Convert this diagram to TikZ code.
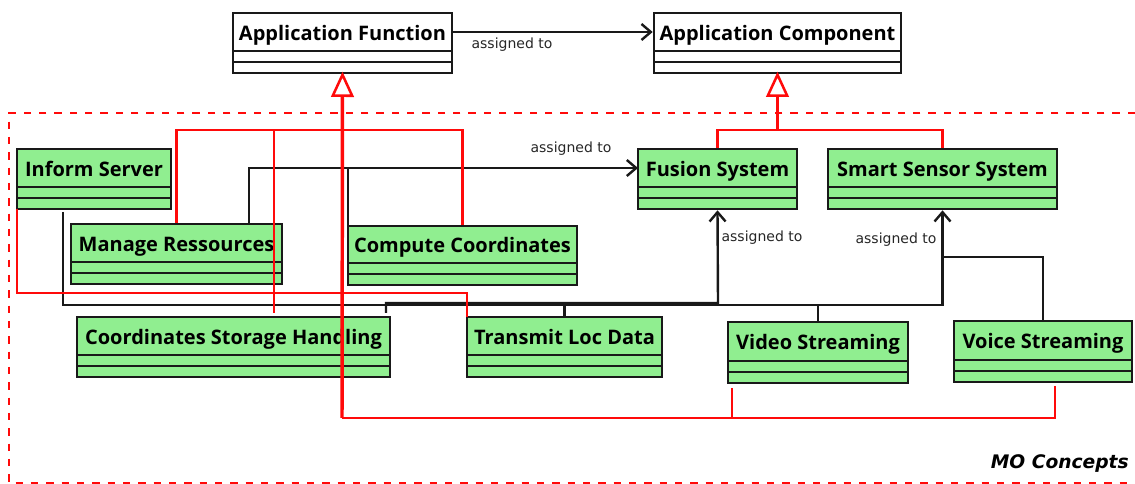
\documentclass[tikz,border=0pt]{standalone}
\usepackage{fontspec}
\setmainfont{Open Sans}
\newfontfamily\lblfont{DejaVu Sans}
\usetikzlibrary{arrows.meta,calc}
\definecolor{boxgreen}{HTML}{90EE90}
\definecolor{linered}{HTML}{FF0A0A}
\newcommand{\umlclass}[7][white]{% fill, name, cx, cy, w, h, title
  \node[umlbox,fill=#1,minimum width=#5*0.75pt,minimum height=#6*0.75pt] (#2) at (#3,#4)
    {\raisebox{2pt}[0pt][0pt]{#7}};}
\tikzset{
  umlbox/.style={draw=black!90,line width=2pt,inner sep=0pt,font=\fontsize{15pt}{18pt}\selectfont\bfseries,
    path picture={
      \draw[black!90,line width=2pt]
        ($(path picture bounding box.south west)+(0,-22)$) -- ($(path picture bounding box.south east)+(0,-22)$)
        ($(path picture bounding box.south west)+(0,-11)$) -- ($(path picture bounding box.south east)+(0,-11)$);
    }},
  assoc/.style={draw=black!90,line width=1.8pt},
  assocarrow/.style={assoc,-{Straight Barb[length=7pt,width=12pt,line width=1.8pt]}},
  genline/.style={draw=linered,line width=2pt},
  genarrow/.style={draw=linered,line width=2.6pt,shorten >=-2pt,-{Triangle[open,fill=white,length=19pt,width=17pt,line width=1.9pt]}},
  frameline/.style={draw=linered,line width=1.6pt,dash pattern=on 5.5pt off 6pt},
  lbl/.style={font=\lblfont\fontsize{10.5pt}{12pt}\selectfont,text=black!85,inner sep=0pt},
  framelbl/.style={font=\lblfont\fontsize{14pt}{16pt}\selectfont\bfseries\itshape,inner sep=0pt,anchor=east},
}
\begin{document}
\begin{tikzpicture}[x=0.75pt,y=-0.75pt]
\useasboundingbox (0,0) rectangle (1135,484);
% frame
\coordinate (fa) at (1135,113);
\coordinate (fb) at (9,113);
\coordinate (fc) at (9,483);
\coordinate (fd) at (1135,483);
\draw[frameline] (fa) -- (fb) -- (fc) -- (fd);
\node[framelbl] (mo) at (1129,464) {MO Concepts};
% classes
\umlclass{appfun}{342.5}{43}{219}{60}{Application Function}
\umlclass{appcomp}{777.5}{43}{247}{60}{Application Component}
\umlclass[boxgreen]{inform}{94}{179}{154}{60}{Inform Server}
\umlclass[boxgreen]{manage}{176.5}{254}{211}{60}{Manage Ressources}
\umlclass[boxgreen]{compute}{462.5}{255.5}{229}{59}{Compute Coordinates}
\umlclass[boxgreen]{storage}{233.5}{347}{313}{60}{Coordinates Storage Handling}
\umlclass[boxgreen]{transmit}{564.5}{347}{195}{60}{Transmit Loc Data}
\umlclass[boxgreen]{video}{818}{352.5}{180}{61}{Video Streaming}
\umlclass[boxgreen]{voice}{1043}{351.5}{178}{61}{Voice Streaming}
\umlclass[boxgreen]{fusion}{717.5}{179}{159}{60}{Fusion System}
\umlclass[boxgreen]{smart}{942.5}{179}{229}{60}{Smart Sensor System}
% way points
\coordinate (redtop) at (342,130);
\coordinate (redbus) at (342,418);
\coordinate (storagered) at (274,313);
\coordinate (videored) at (732,388);
\coordinate (voicered) at (1055,386);
\coordinate (informred) at (17,209);
\coordinate (transmitred) at (467,317);
\coordinate (informblack) at (63,212);
\coordinate (storageblack) at (386,313);
\coordinate (blackbus) at (718,305);
\coordinate (managestub) at (249,224);
\coordinate (computestub) at (348,226);
\coordinate (voicejoin) at (942,257);
\coordinate (fusionin) at (638,168);
% black associations
\draw[assocarrow] (appfun.east |- 0,32) -- (appcomp.west |- 0,32);
\draw[assocarrow] (managestub) |- (fusionin);
\draw[assoc] (computestub) -- (computestub |- fusionin);
\draw[assocarrow] (informblack) |- (blackbus -| smart.south) -- (smart.south);
\draw[assocarrow] (storageblack) |- (718,303) -- (fusion.south);
\draw[assoc] (transmit.north) -- (transmit.north |- blackbus);
\draw[assoc] (video.north) -- (video.north |- blackbus);
\draw[assoc] (voice.north) |- (voicejoin);
% red generalisations
\draw[genarrow] (redbus) -- (appfun.south);
\draw[genline] (manage.north) |- (compute.north |- redtop) -- (compute.north);
\draw[genline] (storagered) -- (storagered |- redtop);
\draw[genline] (videored) |- (redbus);
\draw[genline] (voicered) |- (redbus);
\draw[genline] (informred) |- (transmitred |- 0,293) -- (transmitred);
\draw[genarrow] (777.5,130) -- (appcomp.south);
\draw[genline] (fusion.north) |- (smart.north |- 0,130) -- (smart.north);
% labels
\node[lbl] (l1) at (512,45) {assigned to};
\node[lbl] (l2) at (571,149) {assigned to};
\node[lbl] (l3) at (762,238) {assigned to};
\node[lbl] (l4) at (896,240) {assigned to};
\end{tikzpicture}
\end{document}
